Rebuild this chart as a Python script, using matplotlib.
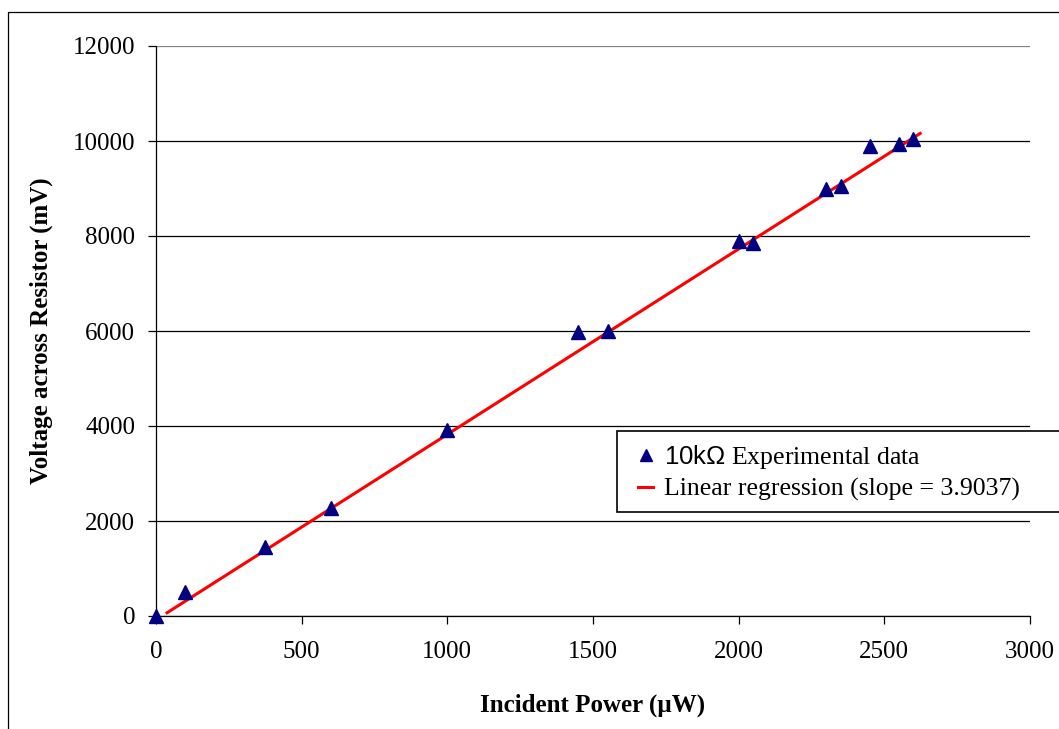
import numpy as np
import matplotlib
matplotlib.use('Agg')
import matplotlib.pyplot as plt
from matplotlib.lines import Line2D
from matplotlib.patches import Rectangle

# incident power (uW) and measured voltage (mV)
power = [0, 100, 375, 600, 1000, 1450, 1550, 2000, 2050, 2300, 2350, 2450, 2550, 2600]
voltage = [0, 500, 1450, 2270, 3910, 5970, 6000, 7900, 7850, 9000, 9050, 9900, 9940, 10040]

slope = 3.9037
intercept = -80
fit_range = [38, 2623]

x_ticks = [0, 500, 1000, 1500, 2000, 2500, 3000]
y_ticks = [0, 2000, 4000, 6000, 8000, 10000, 12000]

plt.rcParams['font.family'] = ['Liberation Serif', 'DejaVu Serif']
plt.rcParams['mathtext.fontset'] = 'custom'
plt.rcParams['mathtext.rm'] = 'Liberation Serif'
plt.rcParams['mathtext.sf'] = 'Liberation Sans'

W, H = 1059, 729
fig = plt.figure(figsize=(W / 100, H / 100), dpi=100)

# outer chart frame (cut off on the right and bottom)
fig.patches.append(Rectangle((8 / W, -0.05), 1.1, 1 - 12 / H + 0.05,
                             transform=fig.transFigure, fill=False,
                             edgecolor='black', linewidth=0.9))

ax = fig.add_axes([156 / W, 1 - 616 / H, (1030 - 156) / W, (616 - 46) / H])
ax.set_xlim(0, 3000)
ax.set_ylim(0, 12000)
ax.set_xticks(x_ticks)
ax.set_yticks(y_ticks)
ax.tick_params(axis='both', direction='out', length=6, width=0.9, labelsize=18)
ax.tick_params(axis='y', pad=9)
ax.tick_params(axis='x', pad=12)
for side in ['top', 'right']:
    ax.spines[side].set_visible(False)
for side in ['left', 'bottom']:
    ax.spines[side].set_linewidth(0.9)

ax.yaxis.grid(True, color='black', linewidth=0.9)
ax.set_axisbelow(True)
ax.get_ygridlines()[-1].set_color('#808080')

fx = np.array(fit_range)
ax.plot(fx, slope * fx + intercept, color='red', linewidth=2.2, zorder=3)
ax.plot(power, voltage, linestyle='none', marker='^', markersize=9.5,
        color='#000080', zorder=4, clip_on=False)

ax.set_xlabel('Incident Power (µW)', fontsize=18, fontweight='bold', labelpad=22)
ax.set_ylabel('Voltage across Resistor (mV)', fontsize=18, fontweight='bold', labelpad=14)

# legend frame runs off the right edge, so draw it separately
fig.patches.append(Rectangle((617 / W, 1 - 512 / H), 0.5, (512 - 431) / H,
                             transform=fig.transFigure, facecolor='white',
                             edgecolor='black', linewidth=1.2, zorder=5))

handles = [
    Line2D([], [], linestyle='none', marker='^', markersize=8, color='#000080'),
    Line2D([], [], color='red', linewidth=2.2),
]
labels = [r'$\mathsf{10k\Omega}$ Experimental data', 'Linear regression (slope = 3.9037)']
leg = fig.legend(handles, labels, loc='center left',
                 bbox_to_anchor=(638 / W, 1 - 472 / H),
                 fontsize=18.5, frameon=False,
                 handlelength=0.6, handletextpad=0.4, borderpad=0,
                 borderaxespad=0, labelspacing=0.26)
leg.set_zorder(6)

fig.savefig('out.png', dpi=100)
